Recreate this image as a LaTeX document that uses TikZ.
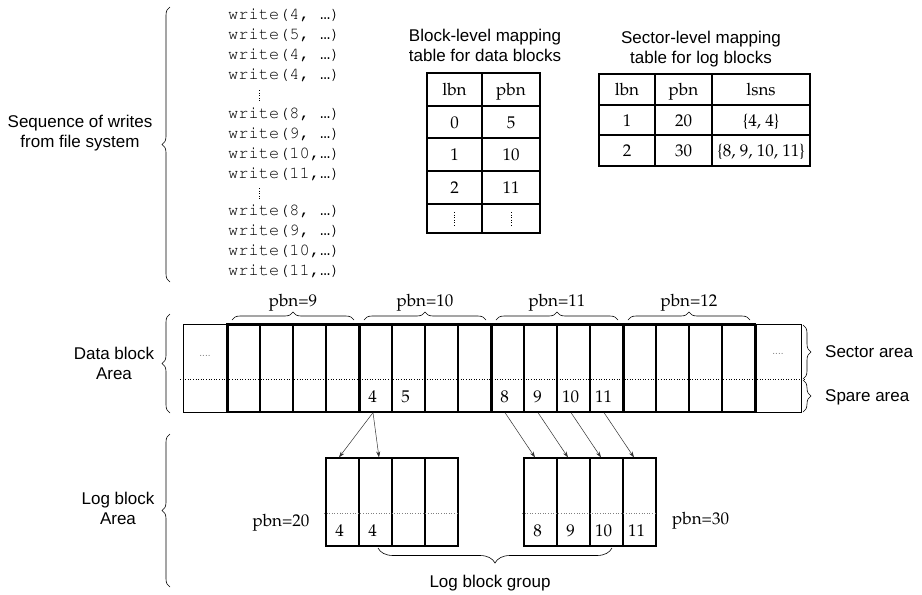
\documentclass[tikz,border=0pt]{standalone}
\usepackage[T1]{fontenc}
\usepackage{fontspec}
\setmainfont{Liberation Sans}
\newfontfamily\monoell{Liberation Mono}
\usetikzlibrary{arrows.meta, positioning, decorations.pathreplacing}
\newcommand{\pala}{\fontencoding{T1}\fontfamily{ppl}\selectfont}
\newcommand{\cour}{\fontencoding{T1}\fontfamily{pcr}\selectfont}

\begin{document}
\begin{tikzpicture}[x=1pt, y=-1pt,
  sans/.style={font=\fontsize{17}{20}\selectfont, align=center, inner sep=0pt},
  serif/.style={font=\pala\fontsize{17}{20}\selectfont, inner sep=0pt, text height=12pt, text depth=0pt},
  wline/.style={font=\cour\fontsize{17}{20}\selectfont, anchor=west, inner sep=0pt},
  cell/.style={draw, line width=1.2pt, minimum width=33pt, minimum height=88pt, inner sep=0pt},
  blk/.style={line width=3pt},
  tbl/.style={line width=1.4pt},
  brc/.style={decorate, decoration={brace, amplitude=8pt}, line width=0.6pt},
  dots/.style={font=\fontsize{10}{10}\selectfont, text=gray, inner sep=0pt},
  arr/.style={-{Stealth[length=6pt, width=4pt]}, line width=0.5pt, black!80}]

\useasboundingbox (0,0) rectangle (922,595);

% writes from the file system
\foreach \y/\t [count=\i] in {15/{4, }, 35/{5, }, 55/{4, }, 75/{4, }, 114/{8, }, 134/{9, }, 154/{10,}, 174/{11,}, 211/{8, }, 231/{9, }, 251/{10,}, 271/{11,}}
  \node[wline] (w\i) at (228,\y) {write(\t{\monoell …})};
\draw[dotted, line width=0.6pt] (259,90) -- (259,101);
\draw[dotted, line width=0.6pt] (259,188) -- (259,199);
\node[sans] (seq) at (80,133) {Sequence of writes\\from file system};
\draw[brc] (170,282) -- (170,7);

% block-level mapping table
\node[sans, align=center] (t1title) at (485,45) {Block-level mapping\\table for data blocks};
\draw[tbl] (427,73) rectangle (540,233);
\foreach \y in {106,138,171,204} \draw[tbl] (427,\y) -- (540,\y);
\draw[tbl] (482,73) -- (482,233);
\foreach \y/\a/\b [count=\i] in {89.5/lbn/pbn, 122/0/5, 154.5/1/10, 187.5/2/11} {
  \node[serif] (ta\i) at (454.5,\y) {\a};
  \node[serif] (tb\i) at (511,\y) {\b};
}
\draw[dotted, line width=0.6pt] (454.5,212) -- (454.5,226);
\draw[dotted, line width=0.6pt] (511,212) -- (511,226);

% sector-level mapping table
\node[sans, align=center] (t2title) at (701,49) {Sector-level mapping\\table for log blocks};
\draw[tbl] (599,74) rectangle (810,166);
\foreach \y in {105,135} \draw[tbl] (599,\y) -- (810,\y);
\foreach \x in {655,712} \draw[tbl] (\x,74) -- (\x,166);
\foreach \y/\a/\b/\c [count=\i] in {89.5/lbn/pbn/lsns, 120/1/20/{\{4, 4\}}, 150.5/2/30/{\{8, 9, 10, 11\}}} {
  \node[serif] (sa\i) at (627,\y) {\a};
  \node[serif] (sb\i) at (683.5,\y) {\b};
  \node[serif] (sc\i) at (761,\y) {\c};
}

% data block area
\draw[dotted, line width=0.6pt] (180,379) -- (806,379);
\draw[line width=0.9pt] (183,324) rectangle (227,412);
\draw[line width=0.9pt] (756,324) rectangle (801,412);
\node[dots] (ldots) at (205,356) {....};
\node[dots] (rdots) at (778,354) {....};
\foreach \i in {0,...,15}
  \node[cell] (d\i) at (243.5+33*\i,368) {};
\draw[blk] (227,324) -- (756,324);
\foreach \b in {0,...,4}
  \draw[blk] (227+132*\b,324) -- (227+132*\b,412);
\foreach \b [evaluate=\b as \p using int(\b+9)] in {0,...,3} {
  \draw[brc] (232+132*\b,320) -- (354+132*\b,320);
  \node[serif] (pbn\p) at (293+132*\b,300) {pbn=\p};
}
\foreach \i in {4,5,8,9,10,11}
  \node[serif] (n\i) at ([xshift=-3pt, yshift=16.5pt]d\i.south) {\i};

\draw[brc] (803,325) -- (803,379);
\draw[brc] (803,380) -- (803,412);
\node[sans, anchor=west] (sector) at (825,352) {Sector area};
\node[sans, anchor=west] (spare) at (825,397) {Spare area};
\node[sans] (dlabel) at (114,363) {Data block\\Area};
\draw[brc] (170,413) -- (170,314);

% log block area
\foreach \i in {0,...,3} {
  \node[cell] (la\i) at (342.5+33*\i,502) {};
  \node[cell] (lb\i) at (540.5+33*\i,502) {};
}
\draw[gray, dotted, line width=0.6pt] (324,513) -- (459,513);
\draw[gray, dotted, line width=0.6pt] (522,513) -- (657,513);
\foreach \c/\v in {la0/4, la1/4, lb0/8, lb1/9, lb2/10, lb3/11}
  \node[serif] (m\c) at ([xshift=-3pt, yshift=16.5pt]\c.south) {\v};
\node[serif] (pbn20) at (281,520) {pbn=20};
\node[serif, anchor=west] (pbn30) at (672,518) {pbn=30};
\node[sans] (llabel) at (118,508) {Log block\\Area};
\draw[brc] (170,587) -- (170,434);

\draw[brc, decoration={amplitude=15pt}] (612,548) -- (378,548);
\node[sans] (group) at (490,583) {Log block group};

% data cells to log cells
\draw[arr] ([xshift=-2.5pt]d4.south) -- ([xshift=-3.5pt]la0.north);
\draw[arr] ([xshift=-2.5pt]d4.south) -- ([xshift=3.5pt]la1.north);
\foreach \i/\j in {8/0, 9/1, 10/2, 11/3}
  \draw[arr] ([xshift=-2.5pt]d\i.south) -- ([xshift=-5.5pt]lb\j.north);
\end{tikzpicture}
\end{document}
